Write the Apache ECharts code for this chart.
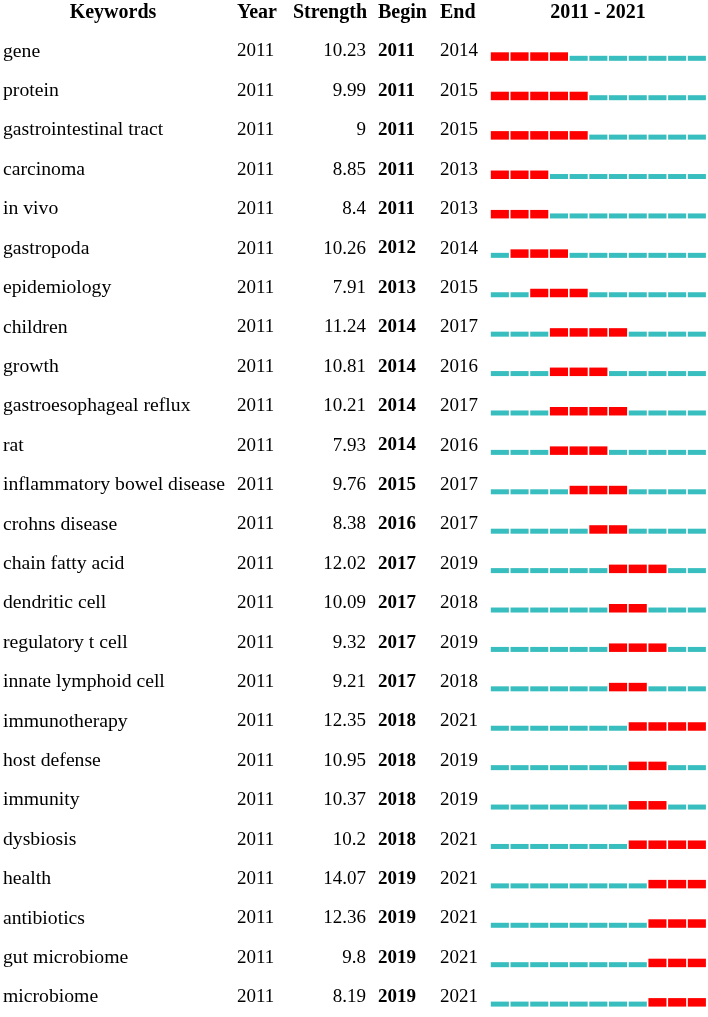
<!DOCTYPE html>
<html>
<head>
<meta charset="utf-8">
<script src="https://cdn.jsdelivr.net/npm/echarts@6/dist/echarts.min.js"></script>
<style>html,body{margin:0;padding:0;background:#fff;}#c{width:708px;height:1017px;}</style>
</head>
<body>
<div id="c"></div>
<script>
var keywords = ["gene","protein","gastrointestinal tract","carcinoma","in vivo","gastropoda","epidemiology","children","growth","gastroesophageal reflux","rat","inflammatory bowel disease","crohns disease","chain fatty acid","dendritic cell","regulatory t cell","innate lymphoid cell","immunotherapy","host defense","immunity","dysbiosis","health","antibiotics","gut microbiome","microbiome"];
var firstYear = [2011,2011,2011,2011,2011,2011,2011,2011,2011,2011,2011,2011,2011,2011,2011,2011,2011,2011,2011,2011,2011,2011,2011,2011,2011];
var strength = [10.23,9.99,9,8.85,8.4,10.26,7.91,11.24,10.81,10.21,7.93,9.76,8.38,12.02,10.09,9.32,9.21,12.35,10.95,10.37,10.2,14.07,12.36,9.8,8.19];
var beginYear = [2011,2011,2011,2011,2011,2012,2013,2014,2014,2014,2014,2015,2016,2017,2017,2017,2017,2018,2018,2018,2018,2019,2019,2019,2019];
var endYear = [2014,2015,2015,2013,2013,2014,2015,2017,2016,2017,2016,2017,2017,2019,2018,2019,2018,2021,2019,2019,2021,2021,2021,2021,2021];
var years = ["2011","2012","2013","2014","2015","2016","2017","2018","2019","2020","2021"];
var headers = ["Keywords","Year","Strength","Begin","End","2011 - 2021"];

var FONT = "'Liberation Serif','Times New Roman',serif";
var FS = 19, FS_KW = 19.7, FS_H = 20;
var RED = '#ff0000', CYAN = '#38bebe';

var cells = [];
for (var i = 0; i < keywords.length; i++) {
  for (var j = 0; j < years.length; j++) {
    var y = +years[j];
    cells.push([j, i, (y >= beginYear[i] && y <= endYear[i]) ? 1 : 0]);
  }
}

var gridLeft = 490, gridTop = 31.8, rowH = 39.72;
function colAxis(fmtArr, margin, align, bold, fs) {
  return {
    type: 'category', data: keywords, inverse: true, gridIndex: 0, position: 'left',
    axisLine: {show: false}, axisTick: {show: false}, splitLine: {show: false},
    axisLabel: {
      interval: 0, margin: margin, align: align, color: '#000',
      fontFamily: FONT, fontSize: fs || FS, fontWeight: bold ? 'bold' : 'normal',
      formatter: function (v, idx) { return String(fmtArr[idx]); }
    }
  };
}
function header(text, x, align) {
  return {type: 'text', x: x, y: 12.5, style: {text: text, font: 'bold ' + FS_H + 'px ' + FONT, fill: '#000', align: align, verticalAlign: 'middle'}};
}

var option = {
  animation: false,
  backgroundColor: '#fff',
  grid: [{left: gridLeft, top: gridTop, width: 216.7, height: rowH * keywords.length}],
  xAxis: [{type: 'category', data: years, gridIndex: 0, show: false, boundaryGap: true}],
  yAxis: [
    colAxis(keywords, gridLeft - 3, 'left', false, FS_KW),
    colAxis(firstYear, gridLeft - 237, 'left', false),
    colAxis(strength, gridLeft - 366, 'right', false),
    colAxis(beginYear, gridLeft - 378, 'left', true),
    colAxis(endYear, gridLeft - 440, 'left', false)
  ],
  graphic: [
    header(headers[0], 113, 'center'),
    header(headers[1], 237, 'left'),
    header(headers[2], 367, 'right'),
    header(headers[3], 378, 'left'),
    header(headers[4], 440, 'left'),
    header(headers[5], 598, 'center')
  ],
  series: [{
    type: 'custom',
    xAxisIndex: 0, yAxisIndex: 0,
    data: cells,
    renderItem: function (params, api) {
      var c = api.coord([api.value(0), api.value(1)]);
      var sz = api.size([1, 1]);
      var burst = api.value(2) === 1;
      var bottom = c[1] + 9.3;
      var h = burst ? 8.5 : 5;
      var x0 = c[0] - sz[0] / 2 + 0.8;
      return {
        type: 'rect',
        shape: {x: x0, y: bottom - h, width: sz[0] - 1.6, height: h},
        style: {fill: burst ? RED : CYAN}
      };
    }
  }]
};
var chart = echarts.init(document.getElementById('c'), null, {renderer: 'canvas'});
chart.setOption(option);
</script>
</body>
</html>
